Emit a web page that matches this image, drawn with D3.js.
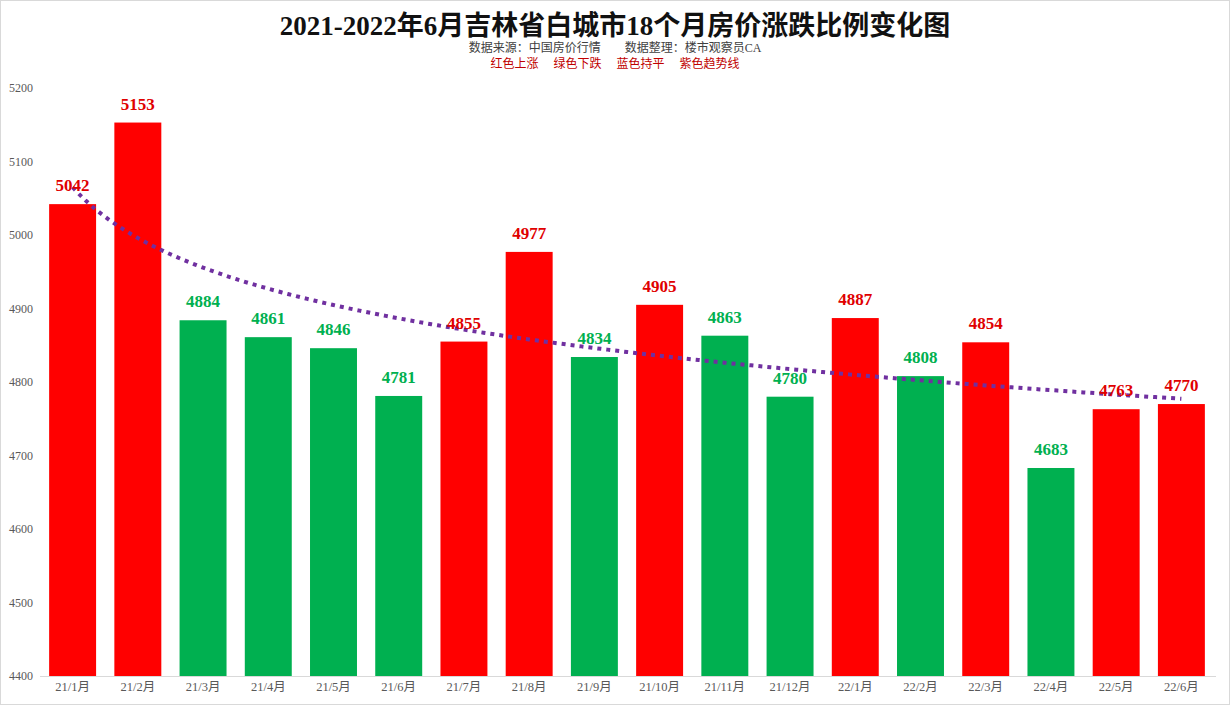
<!DOCTYPE html>
<html><head><meta charset="utf-8">
<script src="https://cdn.jsdelivr.net/npm/d3@7"></script>
<style>
html,body{margin:0;padding:0;background:#fff;}
svg{display:block;}
</style></head>
<body>
<svg id="chart" width="1231" height="706"></svg>
<script>
const categories = ["21/1月","21/2月","21/3月","21/4月","21/5月","21/6月","21/7月","21/8月","21/9月","21/10月","21/11月","21/12月","22/1月","22/2月","22/3月","22/4月","22/5月","22/6月"];
const prices = [5042,5153,4884,4861,4846,4781,4855,4977,4834,4905,4863,4780,4887,4808,4854,4683,4763,4770];
const trend = ["up","up","down","down","down","down","up","up","down","up","down","down","up","down","up","down","up","up"];
const yTicks = [4400,4500,4600,4700,4800,4900,5000,5100,5200];
const titleText = "2021-2022年6月吉林省白城市18个月房价涨跌比例变化图";
const subtitleText = "数据来源：中国房价行情　　数据整理：楼市观察员CA";
const legendText = "红色上涨　 绿色下跌　 蓝色持平　 紫色趋势线";

const W = 1231, H = 706;
const svg = d3.select("#chart");
const serif = "'Liberation Serif','Times New Roman','Noto Sans CJK SC',serif";

svg.append("rect").attr("x",0.5).attr("y",0.5).attr("width",W-2).attr("height",H-2)
  .attr("fill","#fff").attr("stroke","#d9d9d9");

const x = d3.scaleBand().domain(categories).range([40,1214]).paddingInner(0.28).paddingOuter(0.14);
const y = d3.scaleLinear().domain([4400,5200]).range([676,88]);

const colorBar = {up:"#ff0000", down:"#00b050", flat:"#0070c0"};
const colorLbl = {up:"#e00000", down:"#00b050", flat:"#0070c0"};

// bars
svg.append("g").selectAll("rect").data(prices).join("rect")
  .attr("x",(d,i)=>x(categories[i]))
  .attr("width",x.bandwidth())
  .attr("y",d=>y(d))
  .attr("height",d=>y(4400)-y(d))
  .attr("fill",(d,i)=>colorBar[trend[i]]);

// x axis line
svg.append("line").attr("x1",40).attr("x2",1216).attr("y1",676.5).attr("y2",676.5)
  .attr("stroke","#d9d9d9").attr("stroke-width",1);

// y axis
const yAxis = d3.axisLeft(y).tickValues(yTicks).tickFormat(d3.format("d")).tickSize(0).tickPadding(0);
const gy = svg.append("g").attr("transform","translate(33,0)").call(yAxis);
gy.select(".domain").remove();
gy.selectAll("text").attr("font-family",serif).attr("font-size",12).attr("fill","#595959");

// x axis labels
const xAxis = d3.axisBottom(x).tickSize(0).tickPadding(0);
const gx = svg.append("g").attr("transform","translate(0,682)").call(xAxis);
gx.select(".domain").remove();
gx.selectAll("text").attr("font-family",serif).attr("font-size",12.5).attr("fill","#595959");

// logarithmic trendline (least squares on ln(index)) computed from the data
const lx = prices.map((d,i)=>Math.log(i+1));
const mx = d3.mean(lx), my = d3.mean(prices);
const b = d3.sum(lx.map((v,i)=>(v-mx)*(prices[i]-my))) / d3.sum(lx.map(v=>(v-mx)*(v-mx)));
const a = my - b*mx;
const lineGen = d3.line().x(d=>d[0]).y(d=>y(d[1]));
const dense = d3.range(1,18.001,0.1).map(t=>[x(categories[0])+x.bandwidth()/2 + (t-1)*x.step(), a+b*Math.log(t)]);
svg.append("path").datum(dense).attr("d",lineGen).attr("fill","none")
  .attr("stroke","#7030a0").attr("stroke-width",4).attr("stroke-dasharray","4,5");

// value labels
svg.append("g").selectAll("text").data(prices).join("text")
  .attr("x",(d,i)=>x(categories[i])+x.bandwidth()/2)
  .attr("y",d=>y(d)-13)
  .attr("text-anchor","middle")
  .attr("font-family",serif).attr("font-weight","bold").attr("font-size",17)
  .attr("fill",(d,i)=>colorLbl[trend[i]])
  .text(d=>d);

// titles
svg.append("text").attr("x",615).attr("y",35).attr("text-anchor","middle")
  .attr("font-family",serif).attr("font-weight","bold").attr("font-size",27).attr("fill","#111")
  .text(titleText);
svg.append("text").attr("x",615).attr("y",52).attr("text-anchor","middle")
  .attr("font-family",serif).attr("font-size",12).attr("fill","#404040")
  .text(subtitleText);
svg.append("text").attr("x",615).attr("y",68).attr("text-anchor","middle")
  .attr("font-family",serif).attr("font-size",12).attr("fill","#c00000")
  .text(legendText);
</script>
</body></html>
